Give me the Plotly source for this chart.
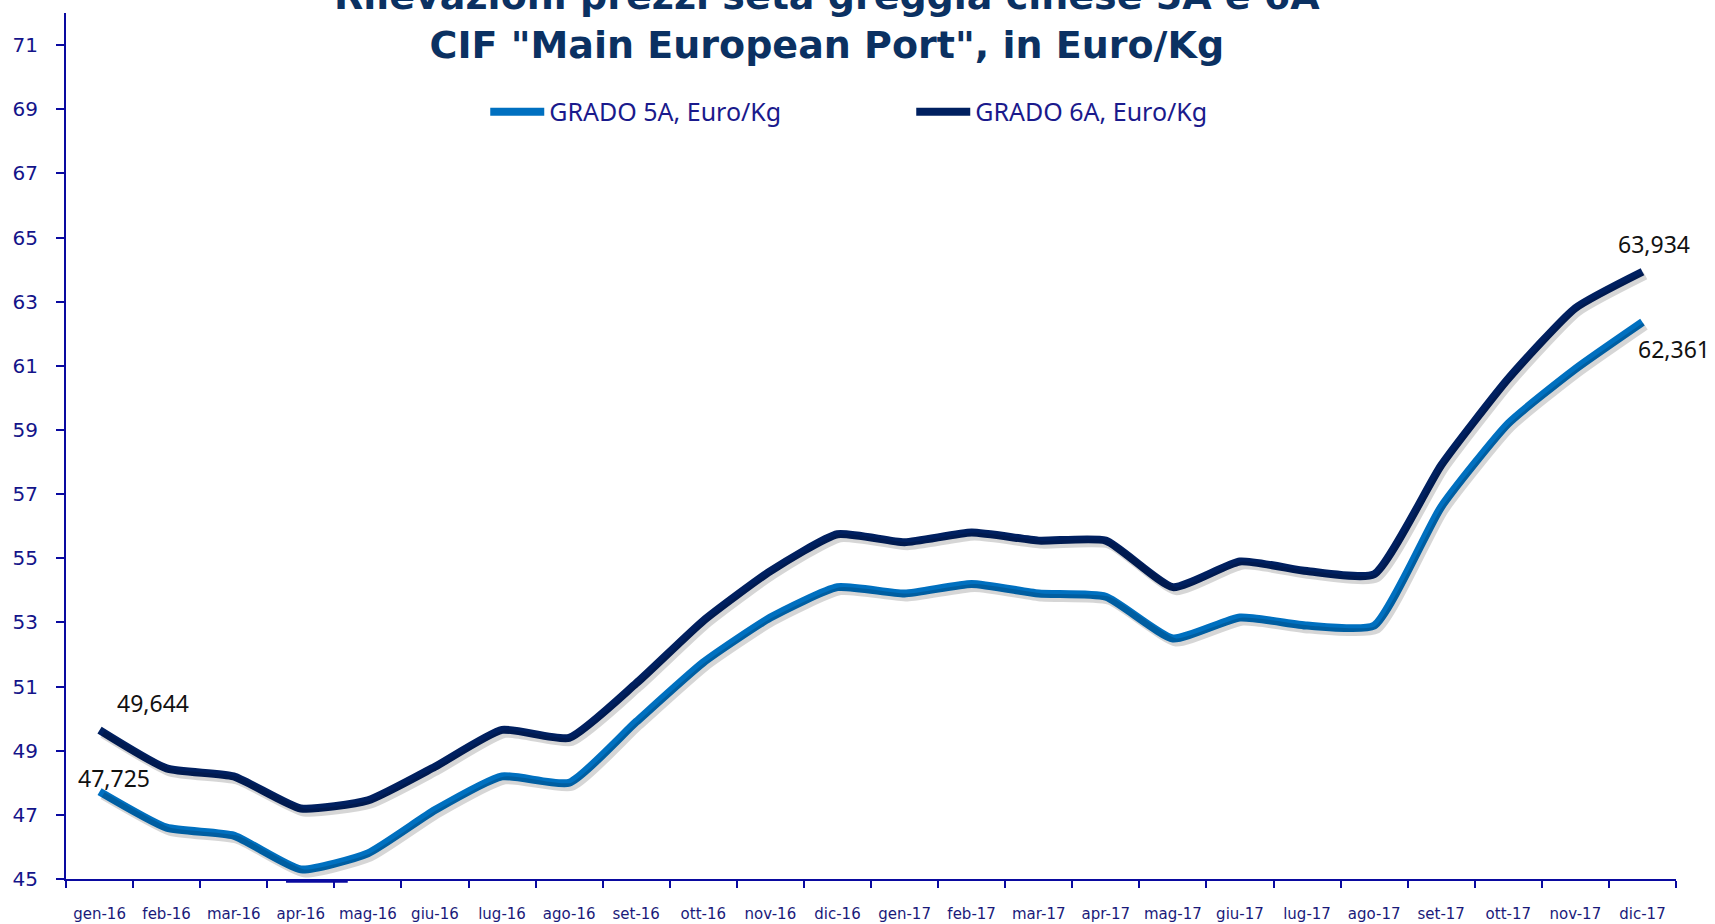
import plotly.graph_objects as go

months = ["gen-16", "feb-16", "mar-16", "apr-16", "mag-16", "giu-16", "lug-16", "ago-16",
          "set-16", "ott-16", "nov-16", "dic-16", "gen-17", "feb-17", "mar-17", "apr-17",
          "mag-17", "giu-17", "lug-17", "ago-17", "set-17", "ott-17", "nov-17", "dic-17"]

grado_5a = [47.725, 46.6, 46.35, 45.3, 45.8, 47.15, 48.2, 48.0, 49.9, 51.75, 53.15, 54.1,
            53.9, 54.2, 53.9, 53.8, 52.5, 53.15, 52.9, 52.9, 56.6, 59.2, 60.9, 62.361]
grado_6a = [49.644, 48.45, 48.2, 47.2, 47.45, 48.5, 49.65, 49.4, 51.1, 53.05, 54.6, 55.75,
            55.5, 55.8, 55.55, 55.55, 54.1, 54.9, 54.6, 54.5, 57.9, 60.6, 62.8, 63.934]

y_ticks = list(range(45, 72, 2))

title_text = 'Rilevazioni prezzi seta greggia cinese 5A e 6A<br>CIF "Main European Port", in Euro/Kg'
name_5a = "GRADO 5A, Euro/Kg"
name_6a = "GRADO 6A, Euro/Kg"

C5 = "#0070C0"
C6 = "#002060"
NAVY = "#14148A"
AX = "#0A0AA0"

X_RANGE = [-0.5, 23.5]
Y_RANGE = [45, 72]
# pixel offsets of the drop shadow, converted to axis units (67.08 px/category, 32.07 px/unit)
SH_DX = 3 / 67.08
SH_DY = 4 / 32.07

fig = go.Figure()
line_kw = dict(width=8, shape="spline", smoothing=0.5)
for ys in (grado_5a, grado_6a):
    fig.add_trace(go.Scatter(x=months, y=ys, mode="lines", xaxis="x2", yaxis="y2",
                             showlegend=False, hoverinfo="skip",
                             line=dict(color="rgba(0,0,0,0.16)", **line_kw)))
fig.add_trace(go.Scatter(x=months, y=grado_5a, mode="lines", name=name_5a,
                         line=dict(color=C5, **line_kw)))
fig.add_trace(go.Scatter(x=months, y=grado_6a, mode="lines", name=name_6a,
                         line=dict(color=C6, **line_kw)))

def fmt(v):
    return f"{v:.3f}".replace(".", ",")

lab_font = dict(family="Noto Sans", size=23, color="#111111")
fig.add_annotation(x=months[0], y=grado_6a[0], text=fmt(grado_6a[0]), showarrow=False,
                   xshift=53, yshift=27, font=lab_font)
fig.add_annotation(x=months[0], y=grado_5a[0], text=fmt(grado_5a[0]), showarrow=False,
                   xshift=14, yshift=14, font=lab_font)
fig.add_annotation(x=months[-1], y=grado_6a[-1], text=fmt(grado_6a[-1]), showarrow=False,
                   xshift=12, yshift=28, font=lab_font)
fig.add_annotation(x=months[-1], y=grado_5a[-1], text=fmt(grado_5a[-1]), showarrow=False,
                   xshift=32, yshift=-27, font=lab_font)

fig.add_annotation(xref="paper", yref="paper", x=0.4727, y=0.9918, xanchor="center",
                   yanchor="middle", text=title_text, showarrow=False,
                   font=dict(family="DejaVu Sans", size=38, color="#0B3162", weight="bold"))

# small stray thicker segment on the x axis near apr-16
fig.add_shape(type="line", xref="x", yref="paper", x0=2.78, x1=3.7, y0=-0.0025, y1=-0.0025,
              line=dict(color=AX, width=3))

fig.update_layout(
    width=1715, height=924,
    margin=dict(l=66, r=39, t=13, b=45, autoexpand=False),
    paper_bgcolor="white", plot_bgcolor="white",
    showlegend=True,
    legend=dict(orientation="h", x=0.525, xanchor="center", y=0.8857, yanchor="middle",
                font=dict(family="Noto Sans", size=25, color="#1A1A8C"),
                entrywidth=357, itemwidth=54, bgcolor="rgba(0,0,0,0)"),
    xaxis=dict(type="category", range=X_RANGE, showline=True, linecolor=AX,
               linewidth=2, ticks="outside", ticklen=7, tickcolor=AX, tickwidth=2,
               tickson="boundaries", showgrid=False, zeroline=False, automargin=False,
               tickangle=0,
               tickfont=dict(family="DejaVu Sans", size=15, color="#1A1A7A"),
               ticklabelstandoff=20),
    yaxis=dict(range=Y_RANGE, tickvals=y_ticks, showline=True, linecolor=AX,
               linewidth=2, ticks="outside", ticklen=8, tickcolor=AX, tickwidth=2,
               showgrid=False, zeroline=False, automargin=False,
               tickfont=dict(family="DejaVu Sans", size=20, color=NAVY),
               ticklabelstandoff=14),
    xaxis2=dict(type="category", overlaying="x", range=[X_RANGE[0] - SH_DX, X_RANGE[1] - SH_DX],
                visible=False, categoryorder="array", categoryarray=months),
    yaxis2=dict(overlaying="y", range=[Y_RANGE[0] + SH_DY, Y_RANGE[1] + SH_DY], visible=False),
)

fig.write_html("out.html", config={"displayModeBar": False},
               post_script="document.body.style.margin='0';")
